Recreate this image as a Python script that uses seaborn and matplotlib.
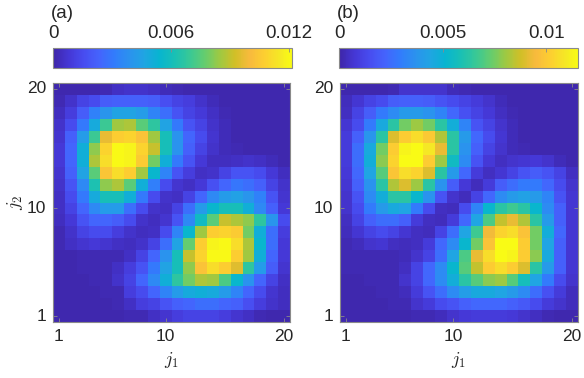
import numpy as np
import pandas as pd
import seaborn as sns
import matplotlib.pyplot as plt
from matplotlib.colors import LinearSegmentedColormap

j_sites = list(range(1, 21))
j2_rows = list(range(20, 0, -1))  # heatmap rows from top (j2=20) to bottom (j2=1)

# probabilities in units of 1e-3; rows j2 = 20 ... 1, columns j1 = 1 ... 20
prob_a = [
    [0.1, 0.1, 0.1, 0.1, 0.2, 0.5, 0.6, 0.6, 0.5, 0.3, 0.2, 0.1, 0.1, 0.1, 0.1, 0.1, 0.1, 0.1, 0.1, 0.1],
    [0.2, 0.6, 1.2, 1.5, 2.1, 2.2, 2.2, 2.2, 2.1, 1.6, 1.2, 1.0, 0.6, 0.3, 0.1, 0.1, 0.1, 0.1, 0.1, 0.1],
    [0.4, 1.0, 2.1, 3.3, 4.0, 4.6, 4.6, 4.3, 3.4, 2.7, 1.8, 1.2, 0.9, 0.5, 0.2, 0.1, 0.1, 0.1, 0.1, 0.1],
    [0.6, 1.5, 3.0, 4.9, 7.0, 8.5, 8.7, 7.5, 6.7, 4.6, 3.0, 1.8, 1.2, 0.6, 0.3, 0.1, 0.1, 0.1, 0.1, 0.1],
    [0.7, 2.2, 4.3, 7.0, 9.7, 10.7, 10.9, 10.3, 8.5, 6.1, 3.9, 2.4, 1.5, 0.7, 0.3, 0.1, 0.1, 0.1, 0.1, 0.1],
    [0.85, 2.4, 5.1, 8.3, 10.9, 12.1, 11.9, 10.9, 9.1, 6.1, 3.9, 2.2, 1.2, 0.6, 0.3, 0.2, 0.1, 0.1, 0.1, 0.1],
    [0.85, 2.4, 5.1, 8.7, 11.2, 12.1, 11.9, 10.6, 7.9, 5.1, 3.0, 1.8, 0.85, 0.4, 0.4, 0.5, 0.6, 0.5, 0.3, 0.1],
    [0.7, 2.2, 4.6, 7.5, 10.4, 11.2, 10.7, 8.5, 5.5, 3.4, 1.8, 1.0, 0.5, 0.6, 1.2, 1.8, 1.8, 1.5, 0.85, 0.4],
    [0.6, 1.8, 3.6, 6.3, 8.3, 8.7, 7.5, 5.1, 3.2, 1.5, 0.7, 0.5, 0.85, 1.7, 2.4, 2.9, 2.7, 2.2, 1.2, 0.6],
    [0.5, 1.5, 3.0, 4.9, 6.1, 6.1, 5.1, 3.0, 1.5, 0.6, 0.5, 1.2, 2.4, 3.6, 4.25, 4.5, 4.0, 3.3, 1.8, 0.7],
    [0.5, 1.2, 2.4, 3.6, 4.25, 4.25, 2.7, 1.5, 0.6, 0.5, 1.2, 2.7, 4.25, 5.5, 6.1, 6.1, 5.1, 3.6, 2.2, 0.85],
    [0.4, 0.85, 1.8, 2.4, 2.4, 2.1, 1.5, 0.6, 0.4, 0.7, 1.8, 3.6, 5.8, 7.5, 9.1, 8.7, 8.3, 6.7, 4.0, 1.5],
    [0.2, 0.6, 1.2, 1.5, 1.5, 1.0, 0.6, 0.4, 0.5, 1.5, 3.4, 5.5, 8.5, 10.7, 10.9, 10.6, 7.9, 5.1, 2.7, 1.0],
    [0.2, 0.5, 0.7, 0.85, 0.7, 0.5, 0.4, 0.6, 1.2, 2.7, 4.6, 7.7, 10.7, 11.9, 12.1, 11.2, 8.7, 5.5, 2.7, 0.85],
    [0.1, 0.1, 0.2, 0.2, 0.2, 0.2, 0.5, 1.2, 2.4, 3.9, 6.1, 9.1, 10.9, 12.1, 12.1, 10.7, 8.5, 5.1, 2.4, 0.85],
    [0.1, 0.1, 0.2, 0.2, 0.2, 0.5, 1.0, 1.8, 3.0, 4.6, 6.1, 8.3, 10.3, 11.2, 10.7, 9.5, 6.7, 4.25, 2.1, 0.7],
    [0.1, 0.1, 0.1, 0.2, 0.2, 0.6, 1.2, 2.4, 3.6, 5.1, 6.7, 7.9, 8.7, 8.5, 7.3, 5.5, 3.9, 2.4, 1.2, 0.5],
    [0.1, 0.1, 0.1, 0.1, 0.2, 0.2, 1.0, 1.5, 2.4, 3.4, 4.25, 4.9, 5.1, 4.9, 4.25, 3.4, 2.4, 1.5, 0.7, 0.4],
    [0.1, 0.1, 0.1, 0.1, 0.1, 0.2, 0.5, 1.0, 1.2, 1.8, 2.2, 2.4, 2.7, 2.7, 2.4, 2.2, 1.6, 1.0, 0.6, 0.4],
    [0.1, 0.1, 0.1, 0.1, 0.1, 0.1, 0.2, 0.2, 0.5, 0.7, 1.0, 1.2, 1.2, 1.2, 1.0, 0.7, 0.5, 0.2, 0.1, 0.1],
]

prob_b = [
    [0.1, 0.1, 0.1, 0.1, 0.2, 0.6, 0.6, 0.6, 0.6, 0.3, 0.2, 0.1, 0.1, 0.1, 0.1, 0.1, 0.1, 0.1, 0.1, 0.1],
    [0.35, 0.7, 1.15, 1.4, 2.0, 2.1, 2.1, 2.0, 1.7, 1.4, 1.15, 0.9, 0.6, 0.3, 0.1, 0.1, 0.1, 0.1, 0.1, 0.1],
    [0.45, 1.15, 2.0, 2.9, 3.45, 4.0, 4.0, 3.7, 3.2, 2.3, 1.6, 1.15, 0.8, 0.45, 0.2, 0.1, 0.1, 0.1, 0.1, 0.1],
    [0.7, 1.4, 2.9, 4.6, 6.3, 7.5, 8.05, 7.5, 6.3, 4.8, 3.2, 1.7, 1.15, 0.6, 0.3, 0.1, 0.1, 0.1, 0.1, 0.1],
    [0.9, 2.1, 3.8, 6.3, 9.0, 10.1, 10.6, 10.0, 8.3, 6.3, 4.0, 2.3, 1.4, 0.7, 0.3, 0.1, 0.1, 0.1, 0.1, 0.1],
    [0.9, 2.5, 4.6, 7.5, 10.1, 11.3, 11.5, 10.9, 9.2, 6.3, 3.7, 2.1, 1.15, 0.6, 0.3, 0.2, 0.1, 0.1, 0.1, 0.1],
    [0.9, 2.5, 4.8, 7.8, 10.35, 11.5, 11.5, 10.1, 8.05, 5.5, 3.45, 1.7, 0.8, 0.45, 0.6, 0.7, 0.8, 0.6, 0.3, 0.1],
    [0.8, 2.3, 4.4, 7.1, 9.9, 10.6, 10.35, 9.0, 6.3, 4.0, 2.3, 0.9, 0.45, 0.7, 1.15, 1.7, 2.0, 1.7, 1.15, 0.45],
    [0.7, 2.1, 3.7, 6.3, 8.3, 9.0, 8.05, 6.3, 3.7, 2.0, 0.8, 0.35, 0.9, 2.0, 2.5, 2.9, 2.9, 2.3, 1.4, 0.6],
    [0.6, 1.7, 3.45, 4.8, 6.3, 6.3, 5.2, 3.7, 1.7, 0.6, 0.35, 1.15, 2.3, 3.45, 4.0, 4.25, 4.0, 3.2, 1.7, 0.7],
    [0.6, 1.4, 2.9, 4.0, 4.6, 4.4, 2.9, 1.4, 0.45, 0.35, 1.4, 3.2, 5.2, 6.3, 6.7, 6.3, 5.2, 3.45, 2.1, 0.7],
    [0.45, 1.15, 2.1, 2.5, 2.5, 2.1, 0.9, 0.45, 0.35, 0.9, 2.3, 4.4, 6.9, 8.6, 9.2, 8.3, 6.3, 4.0, 2.1, 0.7],
    [0.35, 0.7, 1.15, 1.4, 1.15, 0.7, 0.45, 0.35, 1.15, 2.5, 4.4, 6.7, 9.4, 10.35, 10.6, 9.8, 7.5, 4.8, 2.3, 0.7],
    [0.2, 0.35, 0.6, 0.7, 0.45, 0.35, 0.45, 0.9, 2.3, 3.45, 5.2, 7.5, 9.8, 11.5, 11.5, 10.1, 7.5, 4.4, 2.1, 0.7],
    [0.2, 0.2, 0.2, 0.2, 0.2, 0.3, 0.6, 1.15, 2.5, 4.4, 6.9, 9.2, 10.6, 11.5, 11.3, 10.1, 7.8, 4.6, 2.1, 0.7],
    [0.2, 0.2, 0.2, 0.2, 0.2, 0.45, 1.15, 2.3, 3.45, 5.2, 7.1, 8.6, 10.1, 10.6, 10.1, 9.0, 6.3, 4.0, 2.1, 0.7],
    [0.1, 0.1, 0.2, 0.2, 0.2, 0.6, 1.15, 2.3, 3.45, 4.8, 6.3, 7.1, 7.8, 8.05, 7.1, 5.75, 4.4, 2.9, 1.4, 0.6],
    [0.1, 0.1, 0.1, 0.2, 0.2, 0.35, 0.9, 1.7, 2.5, 3.45, 4.1, 4.6, 4.6, 4.4, 4.0, 3.45, 2.5, 1.6, 0.9, 0.35],
    [0.1, 0.1, 0.1, 0.1, 0.2, 0.2, 0.6, 0.9, 1.4, 1.7, 2.1, 2.3, 2.3, 2.3, 2.1, 1.85, 1.4, 0.9, 0.6, 0.35],
    [0.1, 0.1, 0.1, 0.1, 0.1, 0.1, 0.2, 0.2, 0.35, 0.6, 0.8, 0.9, 0.9, 0.9, 0.8, 0.6, 0.45, 0.2, 0.1, 0.1],
]

cbar_max = [0.01215, 0.01153]
cbar_ticks = [[0, 0.006, 0.012], [0, 0.005, 0.01]]
cbar_labels = [["0", "0.006", "0.012"], ["0", "0.005", "0.01"]]
axis_ticks = [1, 10, 20]
panel_tags = ["(a)", "(b)"]

# MATLAB parula, sampled
parula_rgb = [
    (0.2422, 0.1504, 0.6603), (0.2706, 0.2147, 0.8364), (0.2813, 0.3006, 0.9414),
    (0.2699, 0.3892, 0.9906), (0.1963, 0.4847, 0.9892), (0.1687, 0.5703, 0.9359),
    (0.1248, 0.6459, 0.8883), (0.0297, 0.7082, 0.8163), (0.0964, 0.7500, 0.7120),
    (0.2161, 0.7843, 0.5923), (0.3909, 0.8029, 0.4354), (0.6174, 0.7876, 0.2612),
    (0.8203, 0.7498, 0.1535), (0.9728, 0.7298, 0.2394), (0.9892, 0.8136, 0.1885),
    (0.9597, 0.9135, 0.1423), (0.9769, 0.9839, 0.0805),
]
parula_pos = [0, 4, 8, 12, 16, 20, 24, 28, 32, 36, 40, 44, 48, 52, 56, 60, 63]
parula = LinearSegmentedColormap.from_list(
    "parula", [(p / 63, c) for p, c in zip(parula_pos, parula_rgb)])

plt.rcParams['font.family'] = ['Liberation Sans', 'DejaVu Sans']
plt.rcParams['mathtext.fontset'] = 'cm'

fig = plt.figure(figsize=(5.84, 3.78), dpi=100)
ax_pos = [[0.0908, 0.1481, 0.4058, 0.6323], [0.5822, 0.1481, 0.4075, 0.6323]]
cax_pos = [[0.0908, 0.8201, 0.4090, 0.0529], [0.5805, 0.8201, 0.4090, 0.0529]]
frame = '#8a8a8a'
txt = '#262626'

for i, prob in enumerate([prob_a, prob_b]):
    ax = fig.add_axes(ax_pos[i])
    cax = fig.add_axes(cax_pos[i])
    df = pd.DataFrame(np.array(prob) * 1e-3, index=j2_rows, columns=j_sites)
    sns.heatmap(df, ax=ax, cmap=parula, vmin=0, vmax=cbar_max[i],
                cbar_ax=cax, cbar_kws={'orientation': 'horizontal'})

    ax.set_xticks([j - 0.5 for j in axis_ticks])
    ax.set_xticklabels([str(j) for j in axis_ticks], rotation=0)
    ax.set_yticks([20 - j + 0.5 for j in axis_ticks])
    ax.set_yticklabels([str(j) for j in axis_ticks], rotation=0)
    ax.tick_params(direction='in', length=3, width=0.6, color=frame,
                   labelsize=12.5, labelcolor=txt, top=True, right=True)
    ax.tick_params(axis='x', pad=5)
    ax.tick_params(axis='y', pad=5)
    for s in ax.spines.values():
        s.set_visible(True)
        s.set_color(frame)
        s.set_linewidth(0.8)
    ax.set_xlabel('$j_1$', fontsize=13, color=txt, labelpad=4)
    if i == 0:
        ax.set_ylabel('$j_2$', fontsize=13, color=txt, labelpad=1)
    else:
        ax.set_ylabel('')

    cb = ax.collections[0].colorbar
    cb.set_ticks(cbar_ticks[i])
    cb.set_ticklabels(cbar_labels[i])
    cb.outline.set_edgecolor(frame)
    cb.outline.set_linewidth(0.8)
    cax.xaxis.set_ticks_position('top')
    cax.tick_params(direction='in', length=3, width=0.6, color=frame,
                    labelsize=13.5, labelcolor=txt, pad=4,
                    top=True, labeltop=True, bottom=False, labelbottom=False)

    fig.text(cax_pos[i][0] - 0.003, 1 - 13 / 378, panel_tags[i],
             fontsize=13.5, color=txt, va='center', ha='left')

fig.savefig('out.png', dpi=100)
